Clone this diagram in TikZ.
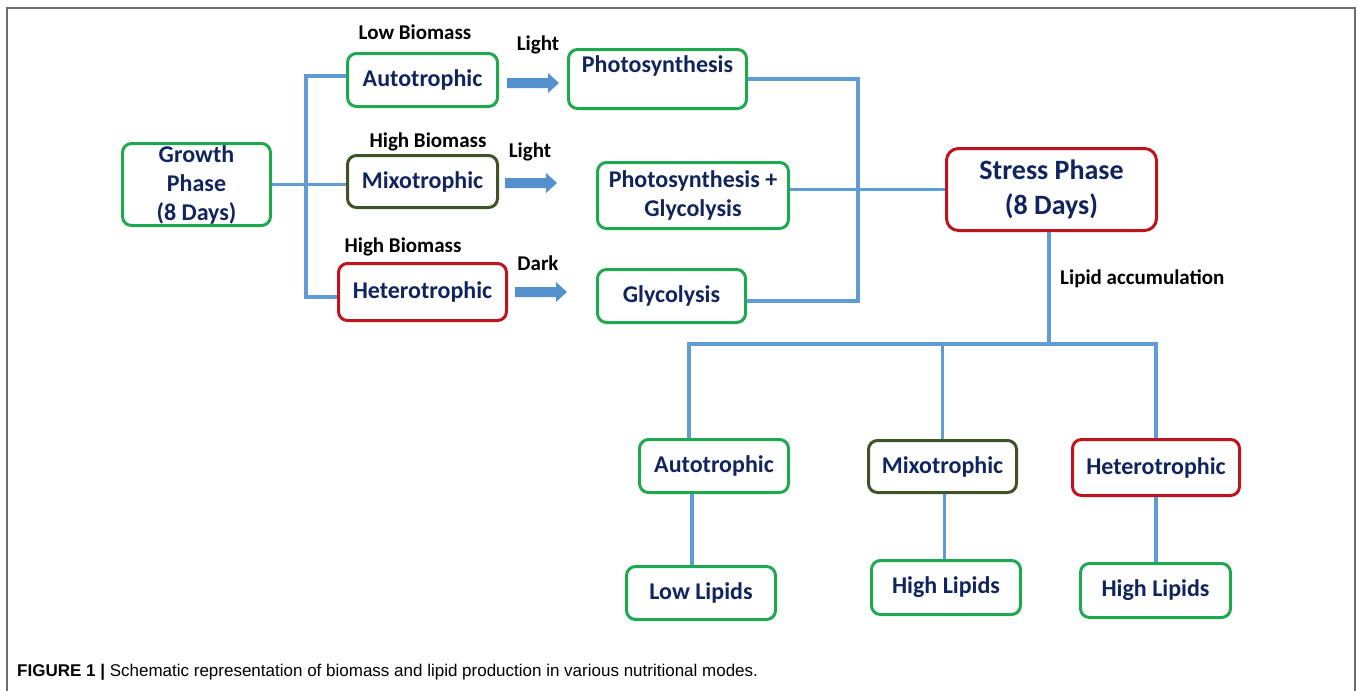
\documentclass[tikz,border=0pt]{standalone}
\usepackage{fontspec}
\setmainfont{Carlito}
\newfontfamily\capfont{Liberation Sans}
\definecolor{navy}{RGB}{16,36,94}
\definecolor{boxgreen}{RGB}{32,168,80}
\definecolor{boxolive}{RGB}{62,84,40}
\definecolor{boxred}{RGB}{190,20,30}
\definecolor{linkblue}{RGB}{96,156,212}
\definecolor{arrowblue}{RGB}{84,144,205}
\definecolor{framegray}{RGB}{110,110,110}
\tikzset{
  box/.style={draw, rounded corners=9pt, line width=3pt, fill=white, text=navy,
    font=\fontsize{24}{29}\selectfont\bfseries, align=center, inner sep=0pt},
  gbox/.style={box, draw=boxgreen},
  obox/.style={box, draw=boxolive},
  rbox/.style={box, draw=boxred},
  lbl/.style={font=\fontsize{21}{25}\selectfont\bfseries, text=black, inner sep=0pt},
  link/.style={draw=linkblue, line width=3.2pt},
  blockarrow/.pic={\fill[arrowblue] (0,-5) -- (41,-5) -- (41,-10) -- (52,0) -- (41,10) -- (41,5) -- (0,5) -- cycle;}
}
\begin{document}
\begin{tikzpicture}[x=1pt,y=-1pt]
\useasboundingbox (0,0) rectangle (1358,691);
\fill[white] (0,0) rectangle (1358,691);
\draw[framegray, line width=1.5pt] (7,691) -- (7,8) -- (1355,8) -- (1355,691);

% left column
\node[gbox, minimum width=148pt, minimum height=82pt] (growth) at (196.5,184.5) {Growth\\Phase\\(8 Days)};
\node[gbox, minimum width=150pt, minimum height=53pt] (auto) at (422.5,80) {Autotrophic};
\node[obox, minimum width=150pt, minimum height=52pt] (mixo) at (422.5,181.5) {Mixotrophic};
\node[rbox, minimum width=168pt, minimum height=57pt] (hetero) at (422.5,292) {Heterotrophic};

\node[lbl] (lb1) at (415,32) {Low Biomass};
\node[lbl] (lb2) at (428,142) {High Biomass};
\node[lbl] (lb3) at (403,247) {High Biomass};

% arrows
\pic at (507,83) {blockarrow};
\pic at (505,183) {blockarrow};
\pic at (515,292) {blockarrow};
\node[lbl] (lt1) at (538,45) {Light};
\node[lbl] (lt2) at (530,152) {Light};
\node[lbl] (dk) at (538,263) {Dark};

% processes
\node[gbox, minimum width=178pt, minimum height=59pt] (ph) at (657.5,79) {};
\node[text=navy, font=\fontsize{24}{29}\selectfont\bfseries, inner sep=0pt] (phT) at (657.5,66) {Photosynthesis};
\node[gbox, minimum width=191pt, minimum height=66pt] (pg) at (693,195.5) {Photosynthesis +\\Glycolysis};
\node[gbox, minimum width=148pt, minimum height=53pt] (gly) at (671.5,296) {Glycolysis};

% stress
\node[rbox, rounded corners=12pt, minimum width=210pt, minimum height=82pt,
  font=\fontsize{28}{35}\selectfont\bfseries] (stress) at (1051.5,189.5) {Stress Phase\\(8 Days)};
\node[lbl, anchor=west] (lipacc) at (1060,279) {Lipid accumulation};

% bottom
\node[gbox, minimum width=149pt, minimum height=53pt] (ba) at (714,466) {Autotrophic};
\node[obox, minimum width=148pt, minimum height=52pt] (bm) at (942.5,466.5) {Mixotrophic};
\node[rbox, minimum width=167pt, minimum height=56pt] (bh) at (1156,467.5) {Heterotrophic};
\node[gbox, minimum width=149pt, minimum height=53pt] (bl) at (701,593) {Low Lipids};
\node[gbox, minimum width=149pt, minimum height=54pt] (bhl) at (946,587.5) {High Lipids};
\node[gbox, minimum width=150pt, minimum height=54pt] (bhr) at (1155.5,590.5) {High Lipids};

% connectors
\coordinate (lb) at (306,183);
\coordinate (rb) at (858,190);
\coordinate (j) at (1049,344);
\draw[link] ([yshift=4pt]auto.west) -| (lb) |- ([yshift=-5pt]hetero.west);
\draw[link] (growth.east) -- (growth.east -| mixo.west);
\draw[link] (ph.east) -| (rb) |- ([yshift=-5pt]gly.east);
\draw[link] (stress.west -| pg.east) -- (stress.west);
\draw[link] (stress.south -| j) -- (j);
\draw[link] ([xshift=-25pt]ba.north) -- ([xshift=-25pt]ba.north |- j) -| (bh.north);
\draw[link] (bm.north) -- (bm.north |- j);
\draw[link] ([xshift=-22pt]ba.south) -- ([xshift=-22pt]ba.south |- bl.north);
\draw[link] ([xshift=2pt]bm.south) -- ([xshift=2pt]bm.south |- bhl.north);
\draw[link] (bh.south) -- (bh.south |- bhr.north);

% caption
\node[anchor=west, inner sep=0pt, font=\capfont\fontsize{17}{20}\selectfont] (cap) at (17,672)
  {\textbf{FIGURE 1 |} Schematic representation of biomass and lipid production in various nutritional modes.};
\end{tikzpicture}
\end{document}
